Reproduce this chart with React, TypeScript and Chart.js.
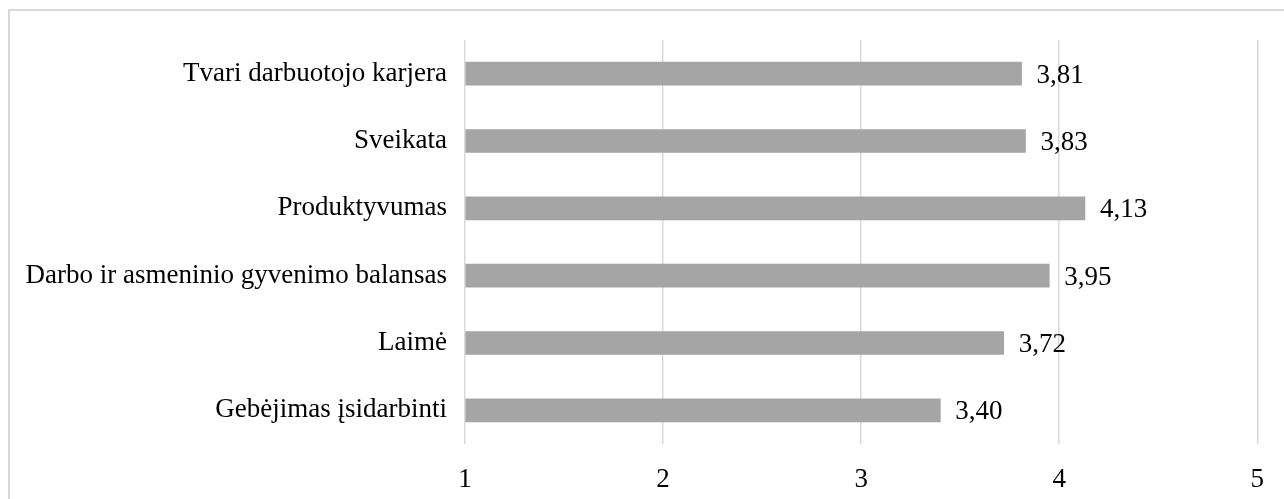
import React, { useEffect, useRef } from "react";
import { Chart, registerables } from "chart.js";

Chart.register(...registerables);

const categories = [
  "Tvari darbuotojo karjera",
  "Sveikata",
  "Produktyvumas",
  "Darbo ir asmeninio gyvenimo balansas",
  "Laimė",
  "Gebėjimas įsidarbinti",
];
const values = [3.81, 3.83, 4.13, 3.95, 3.72, 3.4];
const xTicks = [1, 2, 3, 4, 5];

const FONT = "'Liberation Serif', 'Times New Roman', serif";
const SIZE = 27;

const valueLabels = {
  id: "valueLabels",
  afterDatasetsDraw(chart: any) {
    const ctx = chart.ctx;
    const meta = chart.getDatasetMeta(0);
    ctx.save();
    ctx.font = `${SIZE}px ${FONT}`;
    ctx.fillStyle = "#000";
    ctx.textAlign = "left";
    ctx.textBaseline = "middle";
    meta.data.forEach((bar: any, i: number) => {
      const txt = values[i].toFixed(2).replace(".", ",");
      ctx.fillText(txt, bar.x + 15, bar.y + 2);
    });
    ctx.restore();
  },
};

export default function App() {
  const ref = useRef<HTMLCanvasElement>(null);
  useEffect(() => {
    if (!ref.current) return;
    const chart = new Chart(ref.current, {
      type: "bar",
      data: {
        labels: categories,
        datasets: [
          {
            data: values,
            base: 1,
            backgroundColor: "#a5a5a5",
            barThickness: 23,
          } as any,
        ],
      },
      options: {
        indexAxis: "y",
        animation: false,
        responsive: false,
        maintainAspectRatio: false,
        layout: { padding: { top: 40, right: 25, left: 0, bottom: 0 } },
        plugins: { legend: { display: false }, tooltip: { enabled: false } },
        scales: {
          x: {
            min: 1,
            max: 5,
            afterBuildTicks: (s: any) => {
              s.ticks = xTicks.map((v) => ({ value: v }));
            },
            afterFit: (s: any) => {
              s.height = 55;
            },
            grid: { color: "#d9d9d9", lineWidth: 1.5, drawTicks: false },
            border: { display: false },
            ticks: {
              padding: 20,
              color: "#000",
              font: { family: FONT, size: SIZE },
            },
          },
          y: {
            afterFit: (s: any) => {
              s.width = 465;
            },
            grid: { display: false, drawTicks: false },
            border: { display: false },
            ticks: {
              padding: 18,
              color: "#000",
              font: { family: FONT, size: SIZE },
            },
          },
        },
      },
      plugins: [valueLabels],
    });
    return () => chart.destroy();
  }, []);
  return (
    <div
      style={{
        position: "absolute",
        left: 0,
        top: 0,
        width: 1284,
        height: 499,
        overflow: "hidden",
        background: "#fff",
      }}
    >
      <div
        style={{
          position: "absolute",
          left: 8,
          top: 9,
          width: 1300,
          height: 600,
          border: "2px solid #d9d9d9",
          boxSizing: "border-box",
        }}
      />
      <canvas
        ref={ref}
        width={1284}
        height={499}
        style={{ position: "absolute", left: 0, top: 0, width: 1284, height: 499 }}
      />
    </div>
  );
}
